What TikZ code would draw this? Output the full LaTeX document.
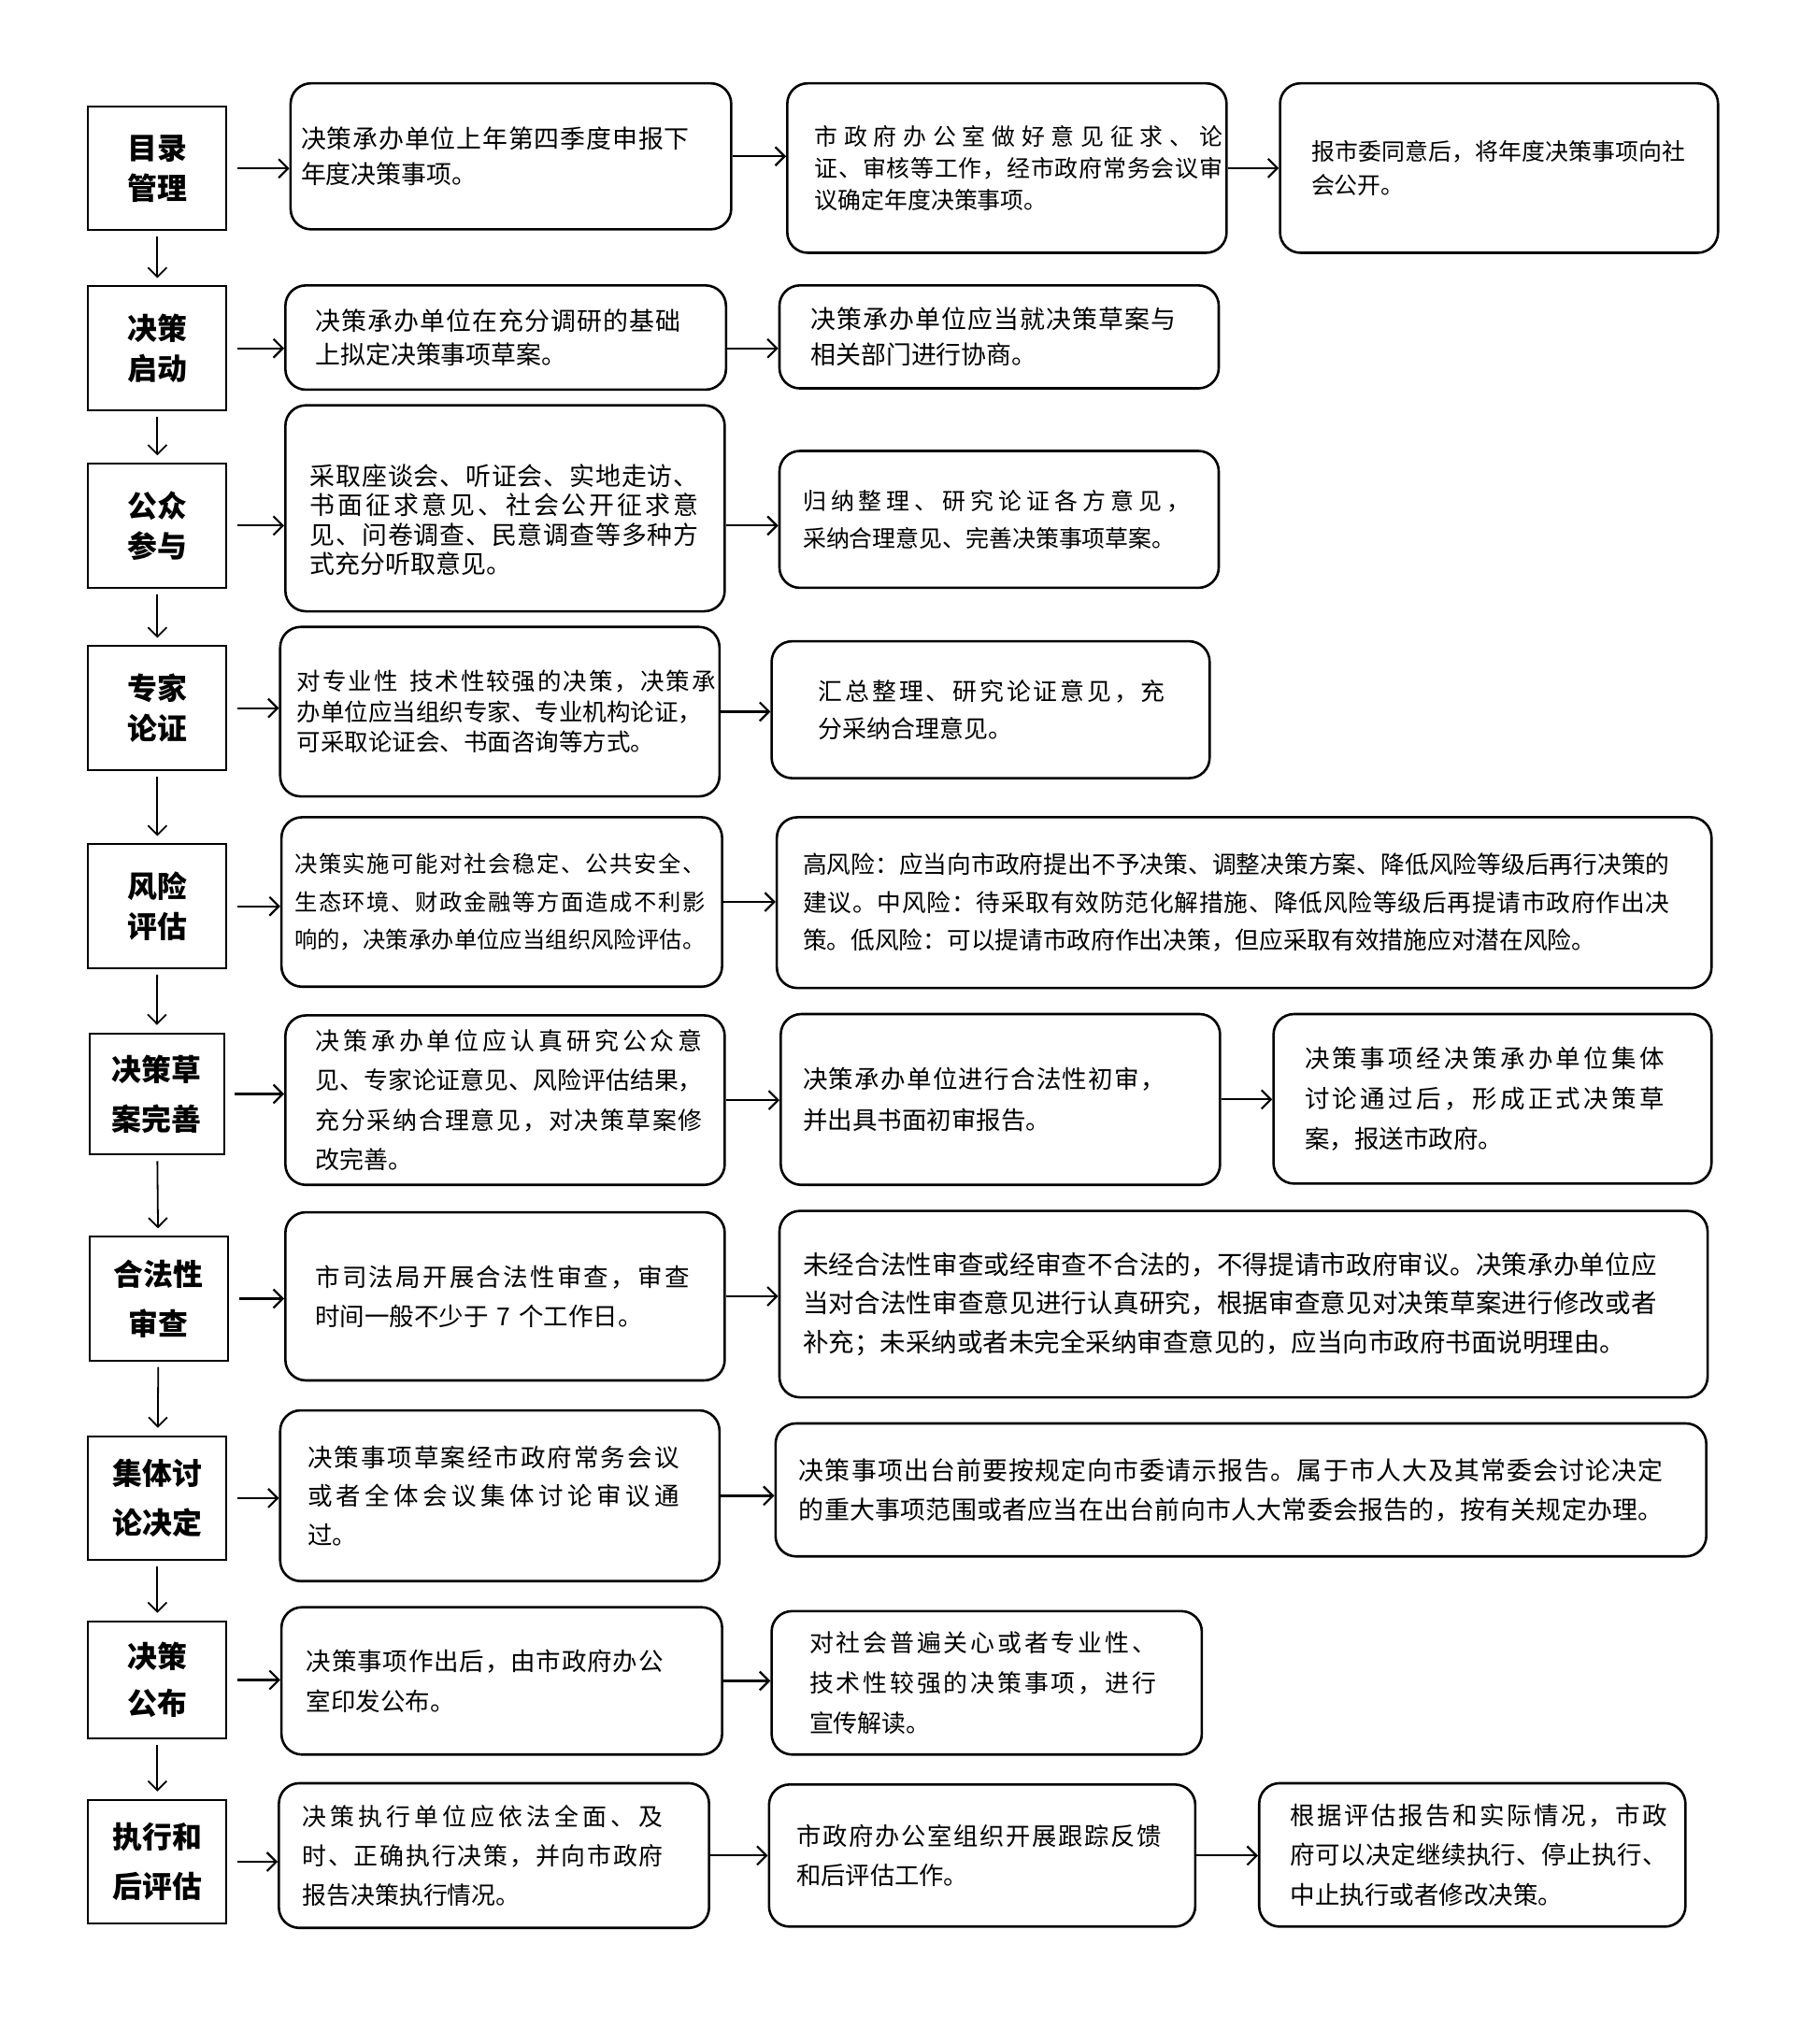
\documentclass[tikz,border=0pt]{standalone}
\usepackage{fontspec}
\setmainfont{Noto Sans CJK SC}
\usetikzlibrary{arrows.meta}

% spread one line over the width \linew
\newcommand\fl[1]{\makebox[\linew][s]{\flfirst#1\relax}}
\def\flfirst#1{#1\flrest}
\def\flrest#1{\ifx#1\relax\else\hfil#1\expandafter\flrest\fi}

\begin{document}
\begin{tikzpicture}[x=0.7pt, y=-0.7pt,
  stage/.style={draw, line width=1pt, anchor=north west, inner sep=0pt, align=center,
    lead=21.7},
  lead/.style={font=\fontsize{16}{#1}\selectfont\bfseries},
  note/.style={draw, line width=1.3pt, rounded corners=11pt, anchor=north west,
    inner sep=0pt, align=left},
  geom/.code args={#1/#2/#3/#4}{%
    \pgfmathsetlengthmacro\boxw{#1*0.7}%
    \pgfmathsetlengthmacro\boxh{#2*0.7}%
    \pgfmathsetlengthmacro\textw{(#1-2*#3)*0.7}%
    \pgfmathsetlengthmacro\linew{#4*0.7}%
    \edef\geomtmp{\noexpand\tikzset{minimum width=\boxw, minimum height=\boxh, text width=\textw}}%
    \geomtmp},
  fs/.style 2 args={font=\fontsize{#1}{#2}\selectfont},
  flow/.style={-{Straight Barb[length=5pt,width=10pt]}, line width=1.1pt},
  entry/.style={flow, shorten <=5.5pt},
  down/.style={flow, line width=0.9pt, shorten <=3pt, shorten >=4pt}
]
\useasboundingbox (0,0) rectangle (1381,1568);

% stages
\node[stage, geom=106/95/0/0] (l1) at (67,81) {目录\\管理};
\node[stage, geom=106/95/0/0] (l2) at (67,219) {决策\\启动};
\node[stage, geom=106/95/0/0] (l3) at (67,355) {公众\\参与};
\node[stage, geom=106/95/0/0] (l4) at (67,495) {专家\\论证};
\node[stage, geom=106/95/0/0] (l5) at (67,647) {风险\\评估};
\node[stage, geom=103/93/0/0, lead=26.6] (l6) at (68,792) {决策草\\案完善};
\node[stage, geom=106/95/0/0, lead=26.6] (l7) at (68,948) {合法性\\审查};
\node[stage, geom=106/95/0/0, lead=26.6] (l8) at (67,1101) {集体讨\\论决定};
\node[stage, geom=106/90/0/0, lead=25.2] (l9) at (67,1243) {决策\\公布};
\node[stage, geom=106/95/0/0, lead=26.6] (l10) at (67,1380) {执行和\\后评估};

% row 1
\node[note, geom=338/112/8/298, fs={13.5}{18.9}] (m1) at (222,63)
  {\fl{决策承办单位上年第四季度申报下}\\年度决策事项。};
\node[note, geom=337/130/21/313, fs={12.5}{17.2}] (t1) at (603,63)
  {\fl{市政府办公室做好意见征求、论}\\\fl{证、审核等工作，经市政府常务会议审}\\议确定年度决策事项。\par\vspace*{9pt}};
\node[note, geom=336/130/24/287, fs={12.5}{18.2}] (f1) at (981,63)
  {\fl{报市委同意后，将年度决策事项向社}\\会公开。\par\vspace*{8pt}};

% row 2
\node[note, geom=338/80/23/280, fs={13.5}{18.2}] (m2) at (218,218)
  {\fl{决策承办单位在充分调研的基础}\\上拟定决策事项草案。};
\node[note, geom=337/79/24/280, fs={13.5}{18.9}] (t2) at (597,218)
  {\fl{决策承办单位应当就决策草案与}\\相关部门进行协商。};

% row 3
\node[note, geom=337/158/19/298, fs={13.5}{15.8}] (m3) at (218,310)
  {\rule{0pt}{24pt}\fl{采取座谈会、听证会、实地走访、}\\\fl{书面征求意见、社会公开征求意}\\\fl{见、问卷调查、民意调查等多种方}\\式充分听取意见。};
\node[note, geom=337/105/18/297, fs={12.5}{20.3}] (t3) at (597,345)
  {\fl{归纳整理、研究论证各方意见，}\\采纳合理意见、完善决策事项草案。};

% row 4
\node[note, geom=337/130/13/321, fs={12.8}{16.1}] (m4) at (214,480)
  {\fl{对专业性\ 技术性较强的决策，决策承}\\办单位应当组织专家、专业机构论证，\\可采取论证会、书面咨询等方式。\par\vspace*{15pt}};
\node[note, geom=336/105/36/266, fs={13}{20.3}] (t4) at (591,491)
  {\fl{汇总整理、研究论证意见，充}\\分采纳合理意见。};

% row 5
\node[note, geom=338/130/10/315, fs={12.2}{20.3}] (m5) at (215,626)
  {\fl{决策实施可能对社会稳定、公共安全、}\\\fl{生态环境、财政金融等方面造成不利影}\\\fl{响的，决策承办单位应当组织风险评估。}};
\node[note, geom=717/131/20/665, fs={12.9}{20.3}] (t5) at (595,626)
  {\fl{高风险：应当向市政府提出不予决策、调整决策方案、降低风险等级后再行决策的}\\\fl{建议。中风险：待采取有效防范化解措施、降低风险等级后再提请市政府作出决}\\策。低风险：可以提请市政府作出决策，但应采取有效措施应对潜在风险。};

% row 6
\node[note, geom=337/130/23/297, fs={13}{21.4}] (m6) at (218,778)
  {\fl{决策承办单位应认真研究公众意}\\\fl{见、专家论证意见、风险评估结果，}\\\fl{充分采纳合理意见，对决策草案修}\\改完善。};
\node[note, geom=337/131/17/278, fs={13.3}{21.7}] (t6) at (598,777)
  {\fl{决策承办单位进行合法性初审，}\\并出具书面初审报告。\par\vspace*{10pt}};
\node[note, geom=336/130/24/276, fs={13.3}{21.4}] (f6) at (976,777)
  {\fl{决策事项经决策承办单位集体}\\\fl{讨论通过后，形成正式决策草}\\案，报送市政府。};

% row 7
\node[note, geom=337/129/23/287, fs={13.3}{21}] (m7) at (218,929)
  {\fl{市司法局开展合法性审查，审查}\\时间一般不少于 7 个工作日。};
\node[note, geom=712/143/18/655, fs={13.8}{21}] (t7) at (597,928)
  {\fl{未经合法性审查或经审查不合法的，不得提请市政府审议。决策承办单位应}\\\fl{当对合法性审查意见进行认真研究，根据审查意见对决策草案进行修改或者}\\补充；未采纳或者未完全采纳审查意见的，应当向市政府书面说明理由。\par\vspace*{16pt}};

% row 8
\node[note, geom=337/131/21/285, fs={13.3}{21}] (m8) at (214,1081)
  {\fl{决策事项草案经市政府常务会议}\\\fl{或者全体会议集体讨论审议通}\\过。};
\node[note, geom=714/102/18/663, fs={13.5}{21}] (t8) at (594,1091)
  {\fl{决策事项出台前要按规定向市委请示报告。属于市人大及其常委会讨论决定}\\\fl{的重大事项范围或者应当在出台前向市人大常委会报告的，按有关规定办理。}};

% row 9
\node[note, geom=338/113/19/274, fs={13.3}{21.7}] (m9) at (215,1232)
  {\fl{决策事项作出后，由市政府办公}\\室印发公布。};
\node[note, geom=330/110/29/266, fs={13}{21.7}] (t9) at (591,1235)
  {\fl{对社会普遍关心或者专业性、}\\\fl{技术性较强的决策事项，进行}\\宣传解读。};

% row 10
\node[note, geom=330/111/18/277, fs={13}{21}] (m10) at (213,1367)
  {\fl{决策执行单位应依法全面、及}\\\fl{时、正确执行决策，并向市政府}\\报告决策执行情况。};
\node[note, geom=327/109/21/280, fs={13.2}{21}] (t10) at (589,1368)
  {\fl{市政府办公室组织开展跟踪反馈}\\和后评估工作。\par\vspace*{6pt}};
\node[note, geom=327/110/24/289, fs={13.3}{21.4}] (f10) at (965,1367)
  {\fl{根据评估报告和实际情况，市政}\\\fl{府可以决定继续执行、停止执行、}\\中止执行或者修改决策。};

% stage to stage
\foreach \a/\b in {l1/l2, l2/l3, l3/l4, l4/l5, l5/l6, l6/l7, l7/l8, l8/l9, l9/l10}
  \draw[down] (\a) -- (\b);

% stage to first note
\foreach \a/\b in {l1/m1, l2/m2, l3/m3, l4/m4, l5/m5, l6/m6, l7/m7, l8/m8, l9/m9, l10/m10}
  \draw[entry] (\a) -- (\a -| \b.west);

% note to note
\foreach \a/\b in {m1/t1, t1/f1, m4/t4, m5/t5, m6/t6, t6/f6, m7/t7, m8/t8, m9/t9, m10/t10, t10/f10}
  \draw[flow] (\a) -- (\a -| \b.west);
\draw[flow] (m2.east |- l2) -- (t2.west |- l2);
\draw[flow] (m3.east |- l3) -- (t3.west |- l3);

\end{tikzpicture}
\end{document}
